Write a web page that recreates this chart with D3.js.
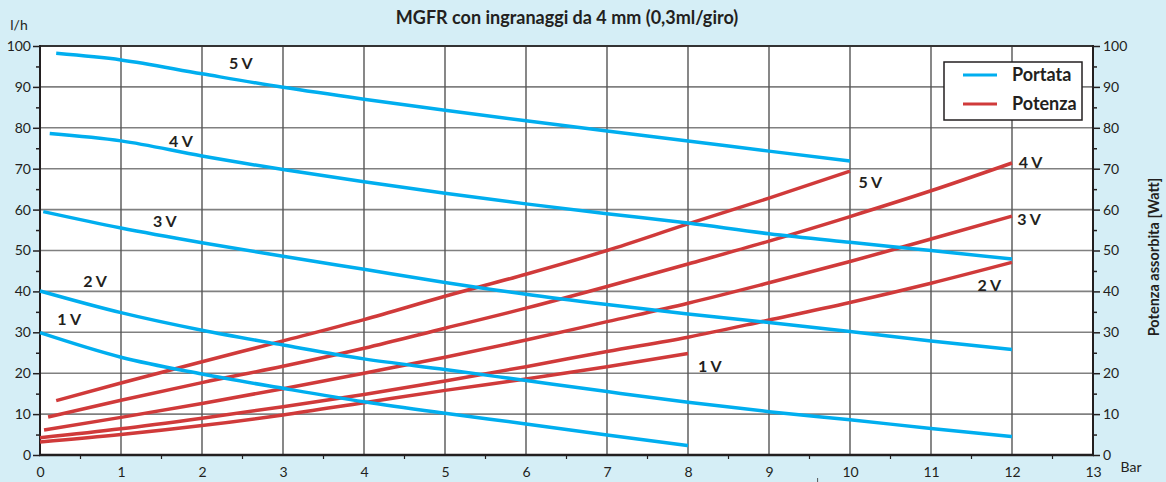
<!DOCTYPE html>
<html>
<head>
<meta charset="utf-8">
<script src="https://cdn.jsdelivr.net/npm/d3@7"></script>
<style>
    html, body { margin: 0; padding: 0; background: #d5eef6; }
    svg { display: block; font-family: Lato, "Open Sans", sans-serif; }
</style>
</head>
<body>
<div id="chart"></div>
<script>
// valori: [bar, l/h] e [bar, Watt]
var voltages = ['1 V', '2 V', '3 V', '4 V', '5 V'];

var portata1V = [[0, 29.9], [1, 23.9], [2, 19.8], [3, 16.3], [4, 13.0], [5, 10.2], [6, 7.6], [7, 4.9], [8, 2.3]];
var portata2V = [[0, 40.1], [1, 34.8], [2, 30.5], [3, 26.9], [4, 23.5], [5, 20.9], [6, 18.2], [7, 15.5], [8, 12.9], [9, 10.6], [10, 8.6], [11, 6.5], [12, 4.5]];
var portata3V = [[0.04, 59.5], [1, 55.5], [2, 51.9], [3, 48.6], [4, 45.4], [5, 42.2], [6, 39.3], [7, 36.8], [8, 34.5], [9, 32.4], [10, 30.2], [11, 27.9], [12, 25.8]];
var portata4V = [[0.12, 78.6], [1, 76.8], [2, 73.1], [3, 69.8], [4, 66.8], [5, 64.0], [6, 61.4], [7, 59.0], [8, 56.7], [9, 54.1], [10, 52.0], [11, 50.0], [12, 47.9]];
var portata5V = [[0.2, 98.2], [1, 96.6], [2, 93.2], [3, 89.9], [4, 87.0], [5, 84.3], [6, 81.7], [7, 79.2], [8, 76.8], [9, 74.3], [10, 71.9]];

var potenza1V = [[0, 3.2], [1, 5.0], [2, 7.2], [3, 9.8], [4, 12.8], [5, 15.8], [6, 18.6], [7, 21.6], [8, 24.8]];
var potenza2V = [[0, 4.2], [1, 6.4], [2, 9.0], [3, 11.8], [4, 14.8], [5, 18.1], [6, 21.6], [7, 25.3], [8, 28.8], [9, 33.0], [10, 37.3], [11, 42.0], [12, 47.1]];
var potenza3V = [[0.05, 6.1], [1, 9.2], [2, 12.6], [3, 16.2], [4, 20.0], [5, 23.9], [6, 28.1], [7, 32.6], [8, 37.1], [9, 42.1], [10, 47.3], [11, 52.8], [12, 58.4]];
var potenza4V = [[0.1, 9.3], [1, 13.4], [2, 17.7], [3, 21.7], [4, 26.1], [5, 31.0], [6, 35.9], [7, 41.2], [8, 46.7], [9, 52.3], [10, 58.3], [11, 64.6], [12, 71.4]];
var potenza5V = [[0.2, 13.3], [1, 17.6], [2, 22.8], [3, 27.9], [4, 33.1], [5, 38.8], [6, 44.2], [7, 50.0], [8, 56.5], [9, 62.8], [10, 69.4]];

var xTicks = d3.range(0, 14);
var yTicks = d3.range(0, 101, 10);

var W = 1166, H = 482;
var colors = {
    portata: '#00aeef',
    potenza: '#d03a3a',
    bg: '#d5eef6',
};

var x = d3.scaleLinear().domain([0, 13]).range([40, 1093]);
var y = d3.scaleLinear().domain([0, 100]).range([455, 46]);
var yRight = d3.scaleLinear().domain([0, 100]).range([455, 46]);

var svg = d3.select('#chart').append('svg')
    .attr('width', W)
    .attr('height', H);

svg.append('rect')
    .attr('width', W).attr('height', H)
    .attr('fill', colors.bg);

// area del grafico
svg.append('rect')
    .attr('x', x(0)).attr('y', y(100))
    .attr('width', x(13) - x(0)).attr('height', y(0) - y(100))
    .attr('fill', '#fff');

// griglia
svg.append('g')
    .selectAll('line')
    .data(yTicks.filter(function(d) { return d > 0 && d < 100; }))
    .enter().append('line')
    .attr('x1', x(0)).attr('x2', x(13))
    .attr('y1', function(d) { return y(d); })
    .attr('y2', function(d) { return y(d); })
    .attr('stroke', '#808080')
    .attr('stroke-width', 1.6);

svg.append('g')
    .selectAll('line')
    .data(xTicks.filter(function(d) { return d > 0 && d < 13; }))
    .enter().append('line')
    .attr('x1', function(d) { return x(d); })
    .attr('x2', function(d) { return x(d); })
    .attr('y1', y(0)).attr('y2', y(100))
    .attr('stroke', '#555')
    .attr('stroke-width', 1.4);

// bordo superiore
svg.append('line')
    .attr('x1', x(0)).attr('x2', x(13))
    .attr('y1', y(100)).attr('y2', y(100))
    .attr('stroke', '#333')
    .attr('stroke-width', 1.8);

// assi
var leftAxis = d3.axisLeft(y).tickValues(d3.range(0, 101, 5))
    .tickSize(0).tickFormat(function(d) { return d % 10 === 0 ? d : ''; });
var gLeft = svg.append('g')
    .attr('transform', 'translate(' + x(0) + ',0)')
    .call(leftAxis);

var rightAxis = d3.axisRight(yRight).tickValues(d3.range(0, 101, 5))
    .tickSize(0).tickFormat(function(d) { return d % 10 === 0 ? d : ''; });
var gRight = svg.append('g')
    .attr('transform', 'translate(' + x(13) + ',0)')
    .call(rightAxis);

var bottomAxis = d3.axisBottom(x).tickValues(xTicks).tickSize(0).tickPadding(12);
var gBottom = svg.append('g')
    .attr('transform', 'translate(0,' + y(0) + ')')
    .call(bottomAxis);

[gLeft, gRight, gBottom].forEach(function(g) {
    g.select('.domain').remove();
    g.selectAll('text')
        .attr('font-family', 'Lato, sans-serif')
        .attr('font-size', 14)
        .attr('fill', '#231f20');
});
gLeft.selectAll('text').attr('x', -9);
gRight.selectAll('text').attr('x', 10);

// tacche
gLeft.selectAll('.tick line')
    .attr('x2', function(d) { return d % 10 === 0 ? -7 : -4; })
    .attr('stroke', '#231f20').attr('stroke-width', 1.5);
gRight.selectAll('.tick line')
    .attr('x2', function(d) { return d % 10 === 0 ? 7 : 4; })
    .attr('stroke', '#231f20').attr('stroke-width', 1.5);

svg.append('g')
    .selectAll('line')
    .data(d3.range(0.5, 13, 1))
    .enter().append('line')
    .attr('x1', function(d) { return x(d); })
    .attr('x2', function(d) { return x(d); })
    .attr('y1', y(0)).attr('y2', y(0) + 4)
    .attr('stroke', '#231f20').attr('stroke-width', 1.2);

// linee degli assi
svg.append('line')
    .attr('x1', x(0)).attr('x2', x(0))
    .attr('y1', y(100) - 1).attr('y2', y(0) + 1)
    .attr('stroke', '#231f20').attr('stroke-width', 2);
svg.append('line')
    .attr('x1', x(13)).attr('x2', x(13))
    .attr('y1', y(100) - 1).attr('y2', y(0) + 1)
    .attr('stroke', '#231f20').attr('stroke-width', 2);
svg.append('line')
    .attr('x1', x(0) - 1).attr('x2', x(13) + 1)
    .attr('y1', y(0)).attr('y2', y(0))
    .attr('stroke', '#231f20').attr('stroke-width', 2.5);

// curve
var line = d3.line()
    .x(function(d) { return x(d[0]); })
    .y(function(d) { return y(d[1]); })
    .curve(d3.curveMonotoneX);
var lineRight = d3.line()
    .x(function(d) { return x(d[0]); })
    .y(function(d) { return yRight(d[1]); })
    .curve(d3.curveMonotoneX);

var portata = [portata1V, portata2V, portata3V, portata4V, portata5V];
var potenza = [potenza1V, potenza2V, potenza3V, potenza4V, potenza5V];

svg.append('g')
    .selectAll('path')
    .data(potenza)
    .enter().append('path')
    .attr('d', lineRight)
    .attr('fill', 'none')
    .attr('stroke', colors.potenza)
    .attr('stroke-width', 3.5);

svg.append('g')
    .selectAll('path')
    .data(portata)
    .enter().append('path')
    .attr('d', line)
    .attr('fill', 'none')
    .attr('stroke', colors.portata)
    .attr('stroke-width', 3.5);

// etichette delle tensioni (posizioni in unità del grafico)
var portataLabelAt = [[0.36, 33.2], [0.68, 42.6], [1.54, 57.2], [1.74, 76.6], [2.48, 95.9]];
var potenzaLabelAt = [[8.27, 21.6], [11.72, 41.6], [12.21, 57.6], [12.23, 71.6], [10.25, 66.8]];

function drawLabels(pos, scaleY) {
    svg.append('g')
        .selectAll('text')
        .data(voltages)
        .enter().append('text')
        .attr('x', function(d, i) { return x(pos[i][0]); })
        .attr('y', function(d, i) { return scaleY(pos[i][1]); })
        .attr('dy', '0.36em')
        .attr('text-anchor', 'middle')
        .attr('font-size', 16)
        .attr('font-weight', 'bold')
        .attr('fill', '#231f20')
        .text(function(d) { return d; });
}
drawLabels(portataLabelAt, y);
drawLabels(potenzaLabelAt, yRight);

// titoli
svg.append('text')
    .attr('x', 567).attr('y', 24)
    .attr('text-anchor', 'middle')
    .attr('font-size', 18)
    .attr('font-weight', 'bold')
    .attr('fill', '#231f20')
    .text('MGFR con ingranaggi da 4 mm (0,3ml/giro)');

svg.append('text')
    .attr('x', 19).attr('y', 30)
    .attr('text-anchor', 'middle')
    .attr('font-size', 14)
    .attr('fill', '#231f20')
    .text('l/h');

svg.append('text')
    .attr('x', 1131).attr('y', 472)
    .attr('text-anchor', 'middle')
    .attr('font-size', 14)
    .attr('fill', '#231f20')
    .text('Bar');

svg.append('text')
    .attr('transform', 'translate(1159,' + 257 + ') rotate(-90)')
    .attr('text-anchor', 'middle')
    .attr('font-size', 14.5)
    .attr('font-weight', 'bold')
    .attr('fill', '#231f20')
    .text('Potenza assorbita [Watt]');

// legenda
var legendItems = [
    { label: 'Portata', color: colors.portata },
    { label: 'Potenza', color: colors.potenza },
];
var legend = svg.append('g').attr('transform', 'translate(944,62)');
legend.append('rect')
    .attr('width', 138).attr('height', 58)
    .attr('fill', '#fff')
    .attr('stroke', '#231f20')
    .attr('stroke-width', 1.5);
var item = legend.selectAll('g.item')
    .data(legendItems)
    .enter().append('g')
    .attr('class', 'item')
    .attr('transform', function(d, i) { return 'translate(0,' + (13 + i * 29) + ')'; });
item.append('line')
    .attr('x1', 19).attr('x2', 53)
    .attr('stroke', function(d) { return d.color; })
    .attr('stroke-width', 3.2);
item.append('text')
    .attr('x', 68).attr('dy', '0.36em')
    .attr('font-size', 18)
    .attr('font-weight', 'bold')
    .attr('fill', '#231f20')
    .text(function(d) { return d.label; });

// piccola tacca sotto l'asse
svg.append('line')
    .attr('x1', x(9.6)).attr('x2', x(9.6))
    .attr('y1', 478).attr('y2', 482)
    .attr('stroke', '#555').attr('stroke-width', 1);
</script>
</body>
</html>
